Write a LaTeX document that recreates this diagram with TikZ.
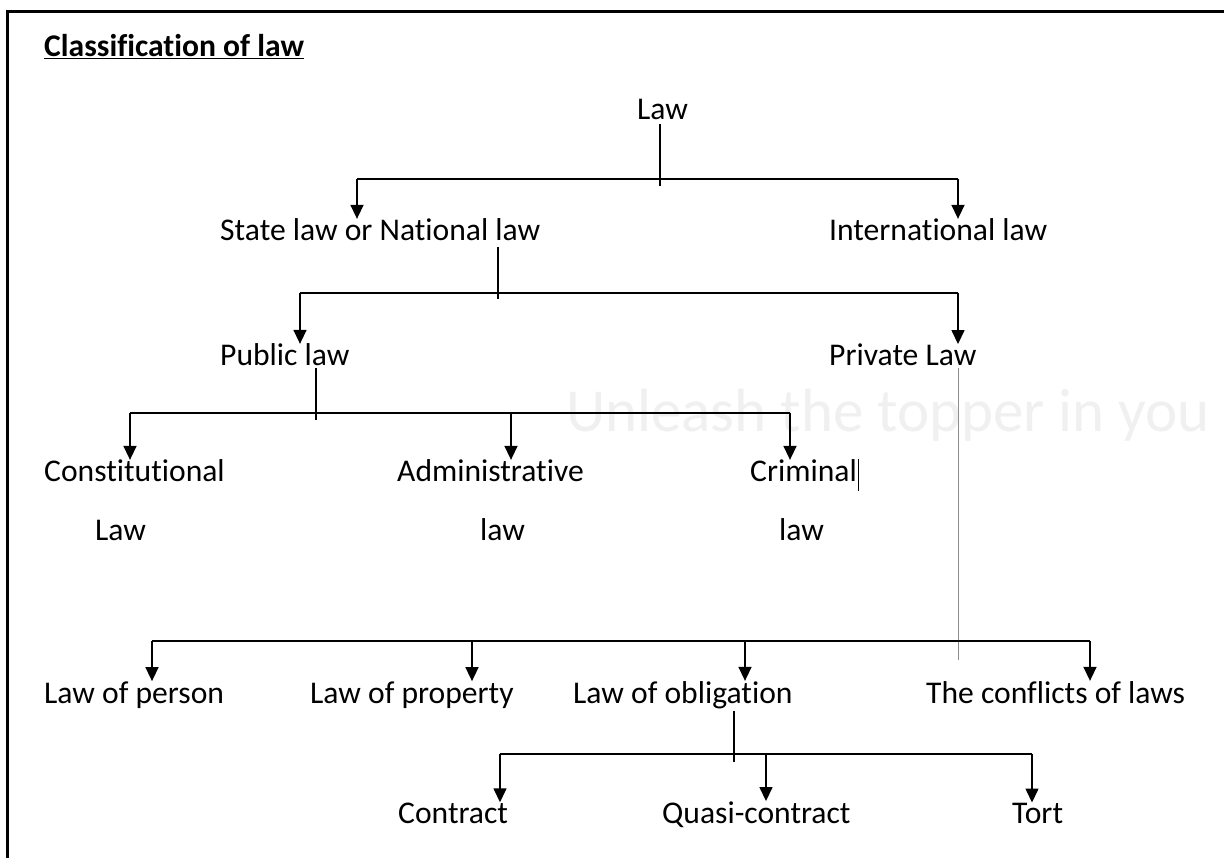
\documentclass[tikz,border=0pt]{standalone}
\usepackage{fontspec}
\setmainfont{Carlito}[Ligatures=CommonOff]
\usetikzlibrary{arrows.meta}
\begin{document}
\begin{tikzpicture}[x=1pt,y=-1pt,
  lbl/.style={anchor=base west,inner sep=0pt,font=\fontsize{31.6}{38}\selectfont},
  ttl/.style={anchor=base west,inner sep=0pt,font=\fontsize{31.6}{38}\selectfont\bfseries},
  conn/.style={line width=1.5pt,draw=black},
  arr/.style={conn,-{Triangle[width=13pt,length=14pt]}},
  faint/.style={line width=1pt,draw=black!45},
  border/.style={line width=3.6pt,draw=black},
  wm/.style={anchor=base west,inner sep=0pt,text=black!6,font=\fontsize{61}{66}\selectfont},
]
\useasboundingbox (0,0) rectangle (1224,858);
\fill[white] (0,0) rectangle (1224,858);
% watermark
\node[wm] (wmark) at (566,432) {Unleash the topper in you};
% border
\draw[border] (7.5,858) -- (7.5,11.5) -- (1224,11.5);

% texts
\node[ttl] (title) at (44,57) {\underline{Classification of law}};
\node[lbl] (law) at (637,120) {Law};
\node[lbl] (state) at (220,241) {State law or National law};
\node[lbl] (intl) at (829,241) {International law};
\node[lbl] (public) at (220,366) {Public law};
\node[lbl] (private) at (829,366) {Private Law};
\node[lbl] (const) at (44,482) {Constitutional};
\node[lbl] (constb) at (95,540) {Law};
\node[lbl] (admin) at (397,482) {Administrative};
\node[lbl] (adminb) at (480,540) {law};
\node[lbl] (crim) at (750,482) {Criminal};
\node[lbl] (crimb) at (779,540) {law};
\node[lbl] (person) at (44,703) {Law of person};
\node[lbl] (property) at (310,703) {Law of property};
\node[lbl] (oblig) at (573,703) {Law of obligation};
\node[lbl] (conflict) at (926,703) {The conflicts of laws};
\node[lbl] (contract) at (398,823) {Contract};
\node[lbl] (quasi) at (662,823) {Quasi-contract};
\node[lbl] (tort) at (1012,823) {Tort};

% junction coordinates
\coordinate (j1) at (660,179);
\coordinate (j2) at (498,293);
\coordinate (j3) at (316,413);
\coordinate (j4) at (958,641);
\coordinate (j5) at (734,754);

% Law -> State / International
\draw[conn] (j1 |- law.south) ++(0,4) -- ([yshift=-7pt]j1);
\draw[conn] (357,179) -- (958,179);
\draw[arr] (357,179) -- (357,179 |- state.north);
\draw[arr] (958,179) -- (958,179 |- intl.north);

% State -> Public / Private
\draw[conn] (j2 |- state.south) ++(0,6) -- ([yshift=-6pt]j2);
\draw[conn] (300,293) -- (958,293);
\draw[arr] (300,293) -- (300,293 |- public.north);
\draw[arr] (958,293) -- (958,293 |- private.north);

% Public -> Constitutional / Administrative / Criminal
\draw[conn] (j3 |- public.south) ++(0,2) -- ([yshift=-7pt]j3);
\draw[conn] (130,413) -- (790,413);
\draw[arr] (130,413) -- (130,413 |- const.north);
\draw[arr] (511,413) -- (511,413 |- admin.north);
\draw[arr] (790,413) -- (790,413 |- crim.north);
% text cursor after Criminal
\draw[line width=1pt] ([xshift=1pt,yshift=1pt]crim.north east) -- ++(0,32);

% Private -> four branches
\draw[faint] (j4 |- private.south) ++(0,2) -- ([yshift=-19pt]j4);
\draw[conn] (152,641) -- (1090,641);
\draw[arr] (152,641) -- (152,641 |- person.north);
\draw[arr] (472,641) -- (472,641 |- property.north);
\draw[arr] (745,641) -- (745,641 |- oblig.north);
\draw[arr] (1090,641) -- (1090,641 |- conflict.north);

% Obligation -> Contract / Quasi / Tort
\draw[conn] (j5 |- oblig.south) ++(0,2) -- ([yshift=-8pt]j5);
\draw[conn] (500,754) -- (1032,754);
\draw[arr] (500,754) -- (500,754 |- contract.north);
\draw[arr] (766,754) -- (766,754 |- quasi.north);
\draw[arr] (1032,754) -- (1032,754 |- tort.north);
\end{tikzpicture}
\end{document}
